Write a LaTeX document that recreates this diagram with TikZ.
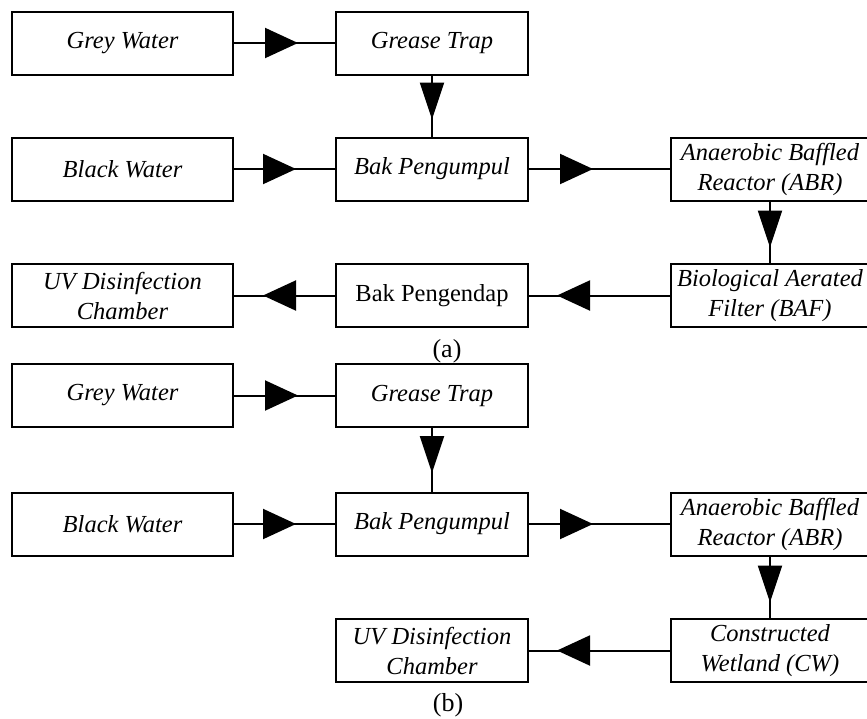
\documentclass[tikz,border=0pt]{standalone}
\usepackage{fontspec}
\setmainfont{Liberation Serif}
\usetikzlibrary{arrows.meta, decorations.markings}

\begin{document}
\begin{tikzpicture}[
    x=1pt, y=-1pt,
    box/.style={rectangle, draw, line width=2pt, minimum height=63pt, inner sep=0pt,
        align=center, font=\fontsize{24.5}{30}\selectfont\itshape},
    leftbox/.style={box, minimum width=221pt},
    midbox/.style={box, minimum width=192pt},
    rightbox/.style={box, minimum width=198pt},
    caption/.style={font=\fontsize{26}{30}\selectfont},
    link/.style={line width=2pt},
    hflow/.style={link, postaction={decorate},
        decoration={markings, mark=at position #1 with {\arrow{Triangle[length=33pt, width=30pt]}}}},
    vflow/.style={link, postaction={decorate},
        decoration={markings, mark=at position #1 with {\arrow{Triangle[length=37pt, width=24pt]}}}}
]
\useasboundingbox (0,0) rectangle (867,718);

% Panel (a)
\node[leftbox] (grey1) at (122.5,43) {Grey Water};
\node[midbox] (grease1) at (432,43) {Grease Trap};
\node[leftbox] (black1) at (122.5,169) {Black Water};
\node[midbox] (collect1) at (432,169) {Bak Pengumpul};
\node[rightbox] (abr1) at (770,169) {Anaerobic Baffled\\Reactor (ABR)};
\node[rightbox] (baf1) at (770,295.5) {Biological Aerated\\Filter (BAF)};
\node[midbox, font=\fontsize{24.5}{30}\selectfont] (settle1) at (432,295.5) {Bak Pengendap};
\node[leftbox] (uv1) at (122.5,295.5) {UV Disinfection\\Chamber};
\node[caption] (capa) at (447,351) {(a)};

\draw[hflow=64pt] (grey1) -- (grease1);
\draw[vflow=44pt] (grease1) -- (collect1);
\draw[hflow=62pt] (black1) -- (collect1);
\draw[hflow=64pt] (collect1) -- (abr1);
\draw[vflow=46pt] (abr1) -- (baf1);
\draw[hflow=113pt] (baf1) -- (settle1);
\draw[hflow=72pt] (settle1) -- (uv1);

% Panel (b)
\node[leftbox] (grey2) at (122.5,395.5) {Grey Water};
\node[midbox] (grease2) at (432,395.5) {Grease Trap};
\node[leftbox] (black2) at (122.5,524) {Black Water};
\node[midbox] (collect2) at (432,524) {Bak Pengumpul};
\node[rightbox] (abr2) at (770,524) {Anaerobic Baffled\\Reactor (ABR)};
\node[rightbox] (cw2) at (770,650.5) {Constructed\\Wetland (CW)};
\node[midbox] (uv2) at (432,650.5) {UV Disinfection\\Chamber};
\node[caption] (capb) at (448,705) {(b)};

\draw[hflow=64pt] (grey2) -- (grease2);
\draw[vflow=45pt] (grease2) -- (collect2);
\draw[hflow=62pt] (black2) -- (collect2);
\draw[hflow=64pt] (collect2) -- (abr2);
\draw[vflow=46pt] (abr2) -- (cw2);
\draw[hflow=113pt] (cw2) -- (uv2);

\end{tikzpicture}
\end{document}
